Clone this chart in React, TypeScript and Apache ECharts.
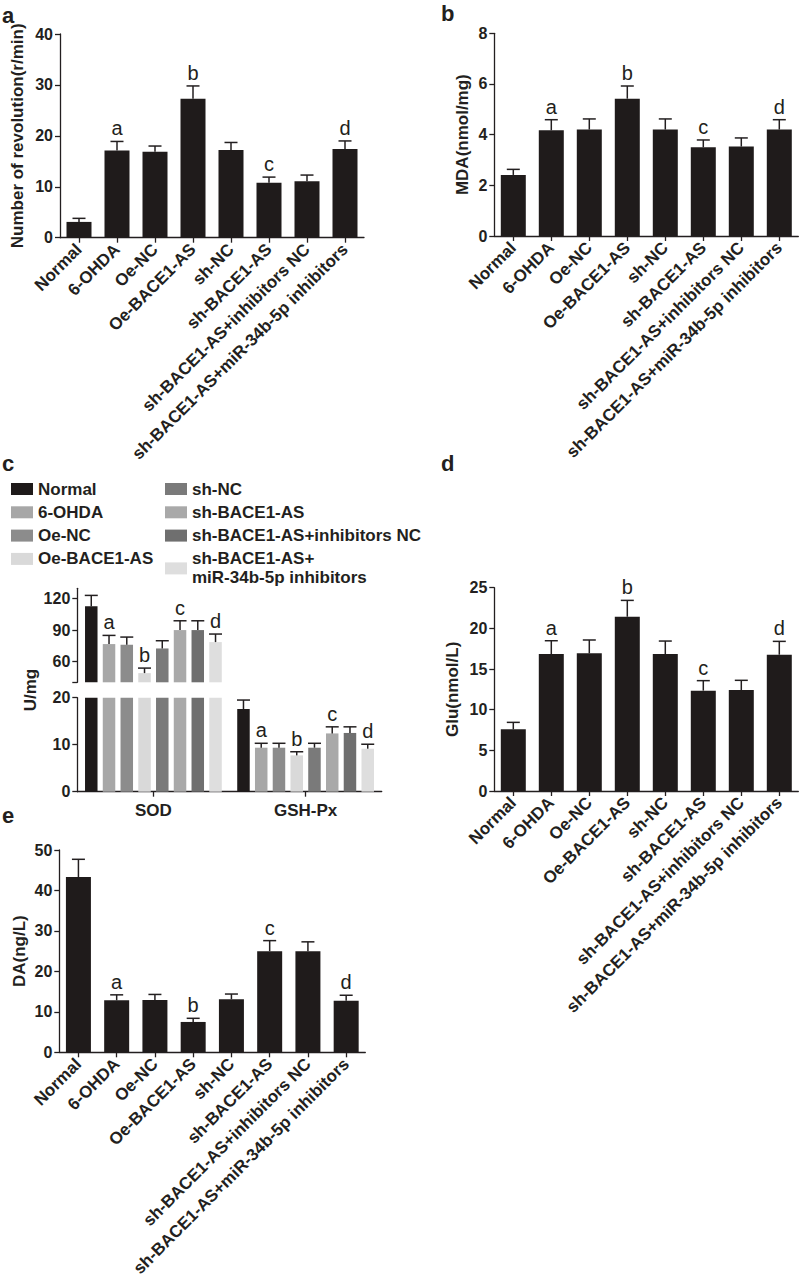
import React, { useEffect, useRef } from 'react';
import * as echarts from 'echarts';

const FONT = '"Liberation Sans", Arial, Helvetica, sans-serif';
const INK = '#231f20';
const BAR = '#1f1b1b';

// ---------- data ----------
const categories = [
  'Normal',
  '6-OHDA',
  'Oe-NC',
  'Oe-BACE1-AS',
  'sh-NC',
  'sh-BACE1-AS',
  'sh-BACE1-AS+inhibitors NC',
  'sh-BACE1-AS+miR-34b-5p inhibitors',
];
const letters = ['', 'a', '', 'b', '', 'c', '', 'd'];

// a: Number of revolution (r/min)
const revolution = [3.1, 17.1, 16.9, 27.3, 17.2, 10.8, 11.1, 17.4];
const revolutionErr = [3.8, 18.9, 18.0, 29.8, 18.7, 11.9, 12.3, 19.0];

// b: MDA (nmol/mg)
const mda = [2.41, 4.17, 4.2, 5.42, 4.2, 3.5, 3.53, 4.2];
const mdaErr = [2.63, 4.59, 4.62, 5.92, 4.62, 3.79, 3.87, 4.59];

// c: SOD / GSH-Px (U/mg)
const enzymes = ['SOD', 'GSH-Px'];
const sod = [112.7, 76.6, 76.0, 48.8, 72.4, 90.0, 90.0, 78.5];
const sodErr = [123.2, 84.9, 83.3, 53.6, 79.8, 98.9, 98.9, 86.2];
const gsh = [17.6, 9.36, 9.36, 7.73, 9.36, 12.4, 12.5, 9.15];
const gshErr = [19.5, 10.3, 10.3, 8.5, 10.3, 13.8, 13.8, 10.1];
const groupColors = ['#1e1a1a', '#a7a7a7', '#8c8c8c', '#d9d9d9', '#7a7a7a', '#a9a9a9', '#6f6f6f', '#dedede'];

// d: Glu (nmol/L)
const glu = [7.58, 16.84, 16.93, 21.43, 16.84, 12.34, 12.42, 16.76];
const gluErr = [8.44, 18.48, 18.57, 23.44, 18.44, 13.57, 13.61, 18.4];

// e: DA (ng/L)
const da = [43.3, 12.85, 12.9, 7.5, 13.1, 25.0, 24.96, 12.77];
const daErr = [47.7, 14.2, 14.3, 8.4, 14.4, 27.6, 27.3, 14.1];

// ---------- helpers ----------
const lineStyle = { color: INK, width: 1.3 };
const tickFont = { color: INK, fontWeight: 'bold', fontSize: 16, fontFamily: FONT };
const textFont = { color: INK, fontWeight: 'bold', fontSize: 17, fontFamily: FONT };

const catAxis = (gridIndex: number, data: string[], rotate = 45, show = true) => ({
  type: 'category',
  gridIndex,
  data,
  show,
  boundaryGap: true,
  axisLine: { show: true, lineStyle },
  axisTick: { show: true, alignWithLabel: true, length: 5, lineStyle },
  axisLabel: {
    interval: 0,
    rotate,
    margin: rotate ? 9 : 10,
    padding: rotate ? [6, 0, 0, 0] : 0,
    ...textFont,
  },
  splitLine: { show: false },
});

const valAxis = (gridIndex: number, min: number, max: number, interval: number, name: string, nameGap: number, extra: any = {}) => ({
  type: 'value',
  gridIndex,
  min,
  max,
  interval,
  name,
  nameLocation: 'middle',
  nameGap,
  nameRotate: 90,
  nameTextStyle: { ...textFont },
  axisLine: { show: true, onZero: false, lineStyle },
  axisTick: { show: true, length: 5, lineStyle },
  axisLabel: { margin: 7, ...tickFont },
  splitLine: { show: false },
  ...extra,
});

const BAR_W = 12.5;
const BAR_GAP = 0.42;
const STEP = BAR_W * (1 + BAR_GAP);

const errSeries = (axisIndex: number, vals: number[], errs: number[], lets: string[], offsets?: number[], cats?: number[]) => ({
  type: 'custom',
  xAxisIndex: axisIndex,
  yAxisIndex: axisIndex,
  z: 10,
  silent: true,
  clip: false,
  encode: { x: 0, y: 1 },
  data: vals.map((v, i) => [cats ? cats[i] : i, v, errs[i]]),
  renderItem: (params: any, api: any) => {
    const i = params.dataIndex;
    const off = offsets ? offsets[i] : 0;
    const p0 = api.coord([api.value(0), api.value(1)]);
    const p1 = api.coord([api.value(0), api.value(2)]);
    const x = p0[0] + off;
    const children: any[] = [
      { type: 'line', shape: { x1: x, y1: p0[1], x2: x, y2: p1[1] }, style: { stroke: INK, lineWidth: 1.5 } },
      { type: 'line', shape: { x1: x - 6.5, y1: p1[1], x2: x + 6.5, y2: p1[1] }, style: { stroke: INK, lineWidth: 1.5 } },
    ];
    if (lets[i]) {
      children.push({
        type: 'text',
        x,
        y: p1[1] - 3,
        style: { text: lets[i], font: `20px ${FONT}`, fill: INK, align: 'center', verticalAlign: 'bottom' },
      });
    }
    return { type: 'group', children };
  },
});

const simpleBar = (axisIndex: number, vals: number[]) => ({
  type: 'bar',
  xAxisIndex: axisIndex,
  yAxisIndex: axisIndex,
  data: vals,
  barWidth: 25,
  itemStyle: { color: BAR },
  silent: true,
});

const panelLabel = (t: string, x: number, y: number) => ({
  type: 'text',
  x,
  y,
  style: { text: t, font: `bold 22px ${FONT}`, fill: INK, align: 'left', verticalAlign: 'middle' },
});

export default function App() {
  const ref = useRef<HTMLDivElement>(null);
  useEffect(() => {
    if (!ref.current) return;
    const chart = echarts.init(ref.current, null, { renderer: 'svg' });

    const offsets = categories.map((_, g) => (g - 3.5) * STEP);
    const cSeries: any[] = [];
    categories.forEach((name, g) => {
      cSeries.push({
        type: 'bar',
        name,
        xAxisIndex: 2,
        yAxisIndex: 2,
        data: [sod[g], '-'],
        barWidth: BAR_W,
        barGap: `${BAR_GAP * 100}%`,
        clip: true,
        itemStyle: { color: groupColors[g] },
        silent: true,
      });
      cSeries.push({
        type: 'bar',
        name,
        xAxisIndex: 3,
        yAxisIndex: 3,
        data: [sod[g], gsh[g]],
        barWidth: BAR_W,
        barGap: `${BAR_GAP * 100}%`,
        clip: true,
        itemStyle: { color: groupColors[g] },
        silent: true,
      });
    });

    const legendText = { ...textFont, lineHeight: 19 };
    const lastName = categories[7];

    const option: any = {
      animation: false,
      backgroundColor: '#ffffff',
      textStyle: { fontFamily: FONT },
      grid: [
        { left: 60, top: 34, width: 304, height: 203.7 }, // a
        { left: 494.3, top: 33.3, width: 304, height: 202.7 }, // b
        { left: 77.3, top: 588.3, width: 304.4, height: 94 }, // c upper
        { left: 77.3, top: 697.7, width: 304.4, height: 94 }, // c lower
        { left: 494.3, top: 587.7, width: 304, height: 203.3 }, // d
        { left: 59.3, top: 850, width: 306, height: 202.3 }, // e
      ],
      xAxis: [
        catAxis(0, categories),
        catAxis(1, categories),
        catAxis(2, enzymes, 0, false),
        catAxis(3, enzymes, 0),
        catAxis(4, categories),
        catAxis(5, categories),
      ],
      yAxis: [
        valAxis(0, 0, 40, 10, 'Number of revolution(r/min)', 34),
        valAxis(1, 0, 8, 2, 'MDA(nmol/mg)', 23),
        valAxis(2, 40, 130, 30, '', 0, {
          axisTick: { show: true, length: 5, lineStyle, customValues: [40, 60, 90, 120] },
          axisLabel: { margin: 7, ...tickFont, customValues: [60, 90, 120] },
        }),
        valAxis(3, 0, 20, 10, '', 0),
        valAxis(4, 0, 25, 5, 'Glu(nmol/L)', 33),
        valAxis(5, 0, 50, 10, 'DA(ng/L)', 31),
      ],
      legend: [
        {
          data: categories.slice(0, 4),
          left: 11,
          top: 479.5,
          orient: 'vertical',
          icon: 'rect',
          itemWidth: 22,
          itemHeight: 12,
          itemGap: 4.3,
          padding: 0,
          selectedMode: false,
          textStyle: legendText,
        },
        {
          data: categories.slice(4),
          left: 165,
          top: 479.5,
          orient: 'vertical',
          icon: 'rect',
          itemWidth: 22,
          itemHeight: 12,
          itemGap: 4.3,
          padding: 0,
          selectedMode: false,
          textStyle: legendText,
          formatter: (n: string) => (n === lastName ? 'sh-BACE1-AS+\nmiR-34b-5p inhibitors' : n),
        },
      ],
      graphic: [
        panelLabel('a', 2, 15),
        panelLabel('b', 441, 13),
        panelLabel('c', 2, 463),
        panelLabel('d', 441, 463),
        panelLabel('e', 2, 815),
        {
          type: 'text',
          x: 30,
          y: 690,
          rotation: Math.PI / 2,
          style: { text: 'U/mg', font: `bold 17px ${FONT}`, fill: INK, align: 'center', verticalAlign: 'middle' },
        },
      ],
      series: [
        simpleBar(0, revolution),
        errSeries(0, revolution, revolutionErr, letters),
        simpleBar(1, mda),
        errSeries(1, mda, mdaErr, letters),
        ...cSeries,
        errSeries(2, sod, sodErr, letters, categories.map((_, g) => offsets[g]), categories.map(() => 0)),
        errSeries(3, gsh, gshErr, letters, categories.map((_, g) => offsets[g]), categories.map(() => 1)),
        simpleBar(4, glu),
        errSeries(4, glu, gluErr, letters),
        simpleBar(5, da),
        errSeries(5, da, daErr, letters),
      ],
    };
    chart.setOption(option);
    return () => chart.dispose();
  }, []);

  return (
    <div
      ref={ref}
      style={{ position: 'absolute', left: 0, top: 0, width: 800, height: 1283, background: '#fff' }}
    />
  );
}
